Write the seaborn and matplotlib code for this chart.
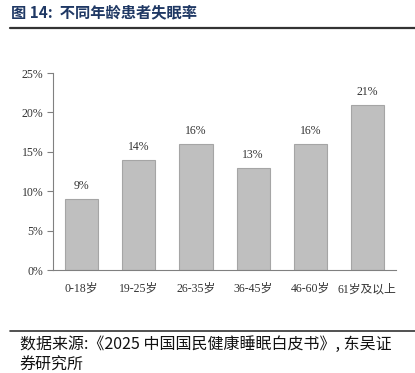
import pandas as pd
import seaborn as sns
import matplotlib.pyplot as plt
from matplotlib.lines import Line2D
from matplotlib.ticker import PercentFormatter

# ============================
# Data
# ============================
age_groups = ["0-18岁", "19-25岁", "26-35岁", "36-45岁", "46-60岁", "61岁及以上"]
insomnia_rate = [9, 14, 16, 13, 16, 21]
bar_labels = ["9%", "14%", "16%", "13%", "16%", "21%"]

df = pd.DataFrame({"age": age_groups, "rate": insomnia_rate})

# ============================
# Style
# ============================
sns.set_style("white")
cjk = ["Noto Sans CJK SC", "DejaVu Sans"]
serif = ["Liberation Serif", "Noto Sans CJK SC"]
plt.rcParams["font.family"] = serif

# ============================
# Figure
# ============================
fig = plt.figure(figsize=(4.15, 3.73), dpi=100)
ax = fig.add_axes([0.128, 0.276, 0.826, 0.528])

sns.barplot(data=df, x="age", y="rate", color="#BFBFBF", edgecolor="#A5A5A5",
            linewidth=0.8, width=0.58, saturation=1, ax=ax)

for p, lab in zip(ax.patches, bar_labels):
    ax.text(p.get_x() + p.get_width() / 2, p.get_height() + 0.9, lab,
            ha="center", va="bottom", fontsize=8.5, color="#333333", family=serif)

ax.set_ylim(0, 25)
ax.set_yticks([0, 5, 10, 15, 20, 25])
ax.yaxis.set_major_formatter(PercentFormatter(decimals=0))
ax.set_xlim(-0.5, 5.5)
ax.set_xlabel("")
ax.set_ylabel("")

for s in ["top", "right"]:
    ax.spines[s].set_visible(False)
for s in ["left", "bottom"]:
    ax.spines[s].set_color("#808080")
    ax.spines[s].set_linewidth(0.8)

ax.tick_params(axis="y", left=True, length=4, width=0.8, color="#808080",
               labelsize=8.5, labelcolor="#333333", pad=3)
ax.tick_params(axis="x", bottom=False, labelsize=8.5, labelcolor="#333333", pad=6)
for t in ax.get_xticklabels():
    t.set_family(serif)

# title and source
fig.text(0.027, 0.967, "图 14:  不同年龄患者失眠率", fontsize=11, fontweight="bold",
         color="#1F3864", va="center", ha="left", family=cjk)
fig.add_artist(Line2D([0.024, 1.0], [0.925, 0.925], color="#333333", lw=1.6,
                      transform=fig.transFigure))
fig.add_artist(Line2D([0.024, 1.0], [0.113, 0.113], color="#333333", lw=1.2,
                      transform=fig.transFigure))
fig.text(0.048, 0.076, "数据来源:《2025 中国国民健康睡眠白皮书》, 东吴证",
         fontsize=11.5, color="#111111", va="center", ha="left", family=cjk)
fig.text(0.048, 0.022, "券研究所",
         fontsize=11.5, color="#111111", va="center", ha="left", family=cjk)

plt.savefig("out.png", dpi=100)
